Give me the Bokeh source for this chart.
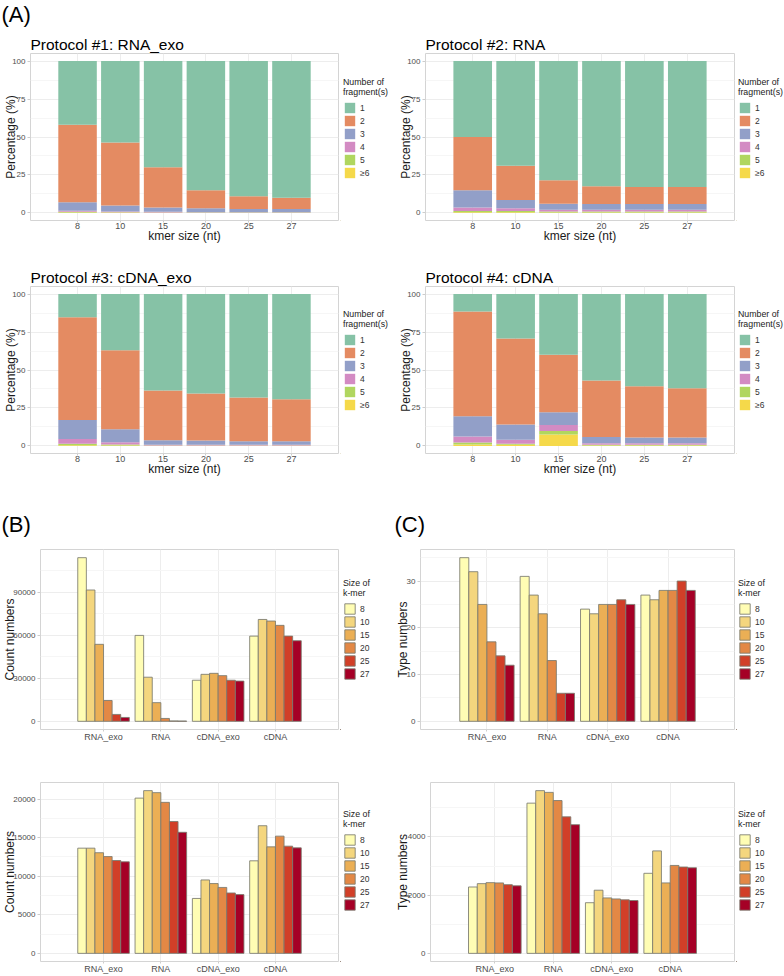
from bokeh.plotting import figure
from bokeh.layouts import column, row
from bokeh.models import (ColumnDataSource, FactorRange, Range1d, FixedTicker,
                          Legend, LegendItem, Label)
from bokeh.transform import dodge
from bokeh.embed import file_html
from bokeh.resources import INLINE

FONT = "Liberation Sans"

# ---------------------------------------------------------------- data
kmer_sizes = ["8", "10", "15", "20", "25", "27"]
fragment_levels = ["1", "2", "3", "4", "5", "≥6"]
fragment_colors = ["#86C2A6", "#E48B62", "#929FC8", "#D38BC3", "#B0D65F", "#F5D94A"]

# percentage of k-mers by number of fragments; each list runs over kmer_sizes
rna_exo_pct = {
    "1": [42.0, 53.7, 70.0, 85.0, 89.0, 90.0],
    "2": [51.0, 41.5, 26.5, 12.0, 8.5, 7.5],
    "3": [5.5, 3.8, 2.8, 2.5, 2.0, 2.0],
    "4": [0.8, 0.5, 0.4, 0.3, 0.3, 0.3],
    "5": [0.4, 0.3, 0.2, 0.1, 0.1, 0.1],
    "≥6": [0.3, 0.2, 0.1, 0.1, 0.1, 0.1],
}
rna_pct = {
    "1": [50.0, 69.0, 78.5, 82.5, 83.0, 83.0],
    "2": [35.0, 22.5, 15.5, 11.7, 11.2, 11.2],
    "3": [11.5, 5.5, 4.0, 3.8, 3.8, 3.8],
    "4": [2.3, 1.8, 1.1, 1.1, 1.1, 1.1],
    "5": [0.7, 0.8, 0.6, 0.6, 0.6, 0.6],
    "≥6": [0.5, 0.4, 0.3, 0.3, 0.3, 0.3],
}
cdna_exo_pct = {
    "1": [15.2, 37.0, 63.5, 65.5, 68.1, 69.2],
    "2": [67.8, 52.0, 32.7, 30.9, 28.9, 27.8],
    "3": [12.5, 8.6, 3.0, 2.8, 2.3, 2.3],
    "4": [3.1, 1.4, 0.5, 0.5, 0.4, 0.4],
    "5": [1.0, 0.7, 0.2, 0.2, 0.2, 0.2],
    "≥6": [0.4, 0.3, 0.1, 0.1, 0.1, 0.1],
}
cdna_pct = {
    "1": [11.4, 29.2, 40.0, 56.9, 60.7, 62.0],
    "2": [69.0, 56.7, 37.8, 37.2, 33.8, 32.5],
    "3": [13.4, 10.1, 8.4, 4.1, 3.8, 3.8],
    "4": [4.0, 2.5, 3.9, 1.1, 1.0, 1.0],
    "5": [1.2, 0.8, 2.4, 0.4, 0.4, 0.4],
    "≥6": [1.0, 0.7, 7.5, 0.3, 0.3, 0.3],
}
pct_ticks = [0, 25, 50, 75, 100]

protocols = ["RNA_exo", "RNA", "cDNA_exo", "cDNA"]
kmer_colors = ["#FFFDB4", "#F4D67E", "#EBAF55", "#E38845", "#D13F28", "#A50026"]

# per k-mer size, one value for each protocol
count_numbers_1 = {
    "8": [113900, 59800, 28600, 59300],
    "10": [91400, 30700, 32700, 70900],
    "15": [53600, 13000, 33400, 69800],
    "20": [14500, 2000, 31800, 66800],
    "25": [4800, 300, 28600, 59300],
    "27": [2700, 200, 28000, 56100],
}
type_numbers_1 = {
    "8": [35, 31, 24, 27],
    "10": [32, 27, 23, 26],
    "15": [25, 23, 25, 28],
    "20": [17, 13, 25, 28],
    "25": [14, 6, 26, 30],
    "27": [12, 6, 25, 28],
}
count_numbers_2 = {
    "8": [13640, 20130, 7120, 12000],
    "10": [13640, 21100, 9520, 16550],
    "15": [13050, 20840, 9050, 13810],
    "20": [12550, 19580, 8550, 15200],
    "25": [12040, 17100, 7830, 13900],
    "27": [11870, 15700, 7620, 13680],
}
type_numbers_2 = {
    "8": [2280, 5160, 1740, 2750],
    "10": [2395, 5590, 2170, 3520],
    "15": [2430, 5530, 1905, 2420],
    "20": [2420, 5250, 1870, 3020],
    "25": [2360, 4690, 1840, 2965],
    "27": [2320, 4420, 1815, 2940],
}
count_ticks_1 = [0, 30000, 60000, 90000]
type_ticks_1 = [0, 10, 20, 30]
count_ticks_2 = [0, 5000, 10000, 15000, 20000]
type_ticks_2 = [0, 2000, 4000]

BAR_LINE = "#7A7A6E"


# ---------------------------------------------------------------- helpers
def base_figure(width, height, x_range, y_range, borders, ylab_standoff):
    left, right, top, bottom = borders
    p = figure(width=width, height=height, x_range=x_range, y_range=y_range,
               output_backend="svg", toolbar_location=None,
               min_border_left=left, min_border_right=right,
               min_border_top=top, min_border_bottom=bottom)
    p.outline_line_color = "#D4D4D4"
    p.outline_line_width = 1
    p.xgrid.grid_line_color = "#EDEDED"
    p.ygrid.grid_line_color = "#EDEDED"
    p.ygrid.minor_grid_line_color = "#F6F6F6"
    for ax in p.axis:
        ax.axis_line_color = None
        ax.major_tick_line_color = "#CDCDCD"
        ax.major_tick_in = 0
        ax.minor_tick_line_color = None
        ax.major_label_text_font = FONT
        ax.major_label_text_color = "#4D4D4D"
        ax.axis_label_text_font = FONT
        ax.axis_label_text_font_size = "12px"
        ax.axis_label_text_font_style = "normal"
        ax.axis_label_text_color = "#1A1A1A"
    p.xaxis.major_tick_out = 2
    p.xaxis.major_label_standoff = 0
    p.xaxis.major_label_text_font_size = "9px"
    p.xaxis.axis_label_standoff = -3
    p.yaxis.major_tick_out = 3
    p.yaxis.major_label_standoff = 1
    p.yaxis.major_label_text_font_size = "8px"
    p.yaxis.axis_label_standoff = ylab_standoff
    return p


def set_yticks(p, ticks):
    step = ticks[1] - ticks[0]
    minor = [t + step / 2 for t in ticks]
    p.yaxis.ticker = FixedTicker(ticks=ticks, minor_ticks=minor)


def legend_box(width, height, title, labels, colors, outline, x, bottom):
    """A narrow canvas holding the key for the neighbouring panel.

    The key swatches come from renderers that sit outside this canvas' ranges,
    so only their legend entries are visible."""
    lp = figure(width=width, height=height, x_range=Range1d(0, 1), y_range=Range1d(0, 1),
                output_backend="svg", toolbar_location=None,
                x_axis_location=None, y_axis_location=None, min_border=0)
    lp.grid.visible = False
    lp.outline_line_color = None
    items = []
    for lab, col in zip(labels, colors):
        key = lp.vbar(x=[-5], bottom=[-5], top=[-4], width=0.1, fill_color=col,
                      line_color=outline if outline else None, line_alpha=0.85)
        items.append(LegendItem(label=lab, renderers=[key]))
    leg = Legend(items=items, title=title, location=(x, bottom),
                 orientation="vertical",
                 glyph_width=13, glyph_height=13, label_height=13, spacing=-2,
                 padding=0, margin=0, label_standoff=4,
                 label_text_font=FONT, label_text_font_size="8.5px",
                 label_text_color="#333333",
                 title_text_font=FONT, title_text_font_size="8.8px",
                 title_text_font_style="normal", title_text_color="#1A1A1A",
                 title_standoff=4,
                 border_line_color=None, background_fill_alpha=0)
    lp.add_layout(leg, "center")
    return lp


def fragment_panel(title, pct, width, borders, height, legend_bottom):
    ymax = 100
    p = base_figure(width, height, FactorRange(*kmer_sizes, range_padding=0.2),
                    Range1d(-0.05 * ymax, 1.05 * ymax), borders, -9)
    data = {"kmer": kmer_sizes}
    for i, lvl in enumerate(fragment_levels):
        data[f"f{i}"] = pct[lvl]
    src = ColumnDataSource(data)
    order = list(reversed(range(len(fragment_levels))))  # ≥6 at the bottom
    p.vbar_stack([f"f{i}" for i in order], x="kmer", width=0.9, source=src,
                 fill_color=[fragment_colors[i] for i in order], line_color=None)
    set_yticks(p, pct_ticks)
    p.xaxis.axis_label = "kmer size (nt)"
    p.yaxis.axis_label = "Percentage (%)"
    p.title.text = title
    p.title.text_font = FONT
    p.title.text_font_size = "15.5px"
    p.title.text_font_style = "normal"
    p.title.text_color = "#000000"
    p.title.align = "left"
    p.title.standoff = 2
    leg = legend_box(392 - width, height, "Number of\nfragment(s)", fragment_levels,
                     fragment_colors, None, 3 if width == 340 else 2, legend_bottom)
    return row(p, leg)


def kmer_panel(values, ticks, ylabel, width, borders, height, legend_bottom, standoff):
    ymax = max(max(v) for v in values.values())
    p = base_figure(width, height, FactorRange(*protocols, range_padding=0.3),
                    Range1d(-0.05 * ymax, 1.05 * ymax), borders, standoff)
    data = {"protocol": protocols}
    for k in kmer_sizes:
        data[f"k{k}"] = values[k]
    src = ColumnDataSource(data)
    n = len(kmer_sizes)
    bw = 0.9 / n
    for i, k in enumerate(kmer_sizes):
        p.vbar(x=dodge("protocol", (i - (n - 1) / 2) * bw, range=p.x_range),
               top=f"k{k}", width=bw, source=src, fill_color=kmer_colors[i],
               line_color=BAR_LINE, line_alpha=0.85, line_width=1)
    set_yticks(p, ticks)
    p.yaxis.axis_label = ylabel
    leg = legend_box(392 - width, height, "Size of\nk-mer", kmer_sizes, kmer_colors,
                     BAR_LINE, 3 if width == 340 else 2, legend_bottom)
    return row(p, leg)


def header(height, labels):
    h = figure(width=784, height=height, x_range=Range1d(0, 784), y_range=Range1d(0, height),
               output_backend="svg", toolbar_location=None,
               x_axis_location=None, y_axis_location=None, min_border=0)
    h.grid.visible = False
    h.outline_line_color = None
    for x, y, t in labels:
        h.add_layout(Label(x=x, y=y, text=t, text_font=FONT, text_font_size="22px",
                           text_baseline="middle", text_color="#000000"))
    return h


# ---------------------------------------------------------------- panels
head_a = header(30, [(1, 16, "(A)")])
a1 = fragment_panel("Protocol #1: RNA_exo", rna_exo_pct, 340, (30, 2, 23, 40), 230, 41)
a2 = fragment_panel("Protocol #2: RNA", rna_pct, 344, (33, 2, 23, 40), 230, 41)
a3 = fragment_panel("Protocol #3: cDNA_exo", cdna_exo_pct, 340, (30, 2, 26, 47), 240, 42)
a4 = fragment_panel("Protocol #4: cDNA", cdna_pct, 344, (33, 2, 26, 47), 240, 42)

head_bc = header(40, [(1, 16.5, "(B)"), (394, 16.5, "(C)")])
b1 = kmer_panel(count_numbers_1, count_ticks_1, "Count numbers", 340, (39, 2, 9, 12), 204, 49, -7)
c1 = kmer_panel(type_numbers_1, type_ticks_1, "Type numbers", 344, (28, 2, 9, 12), 204, 49, -6)
b2 = kmer_panel(count_numbers_2, count_ticks_2, "Count numbers", 340, (39, 2, 38, 10), 232, 50, -7)
c2 = kmer_panel(type_numbers_2, type_ticks_2, "Type numbers", 344, (38, 2, 38, 10), 232, 50, -5)

page = column(head_a, row(a1, a2), row(a3, a4), head_bc, row(b1, c1), row(b2, c2))

with open("out.html", "w") as f:
    f.write(file_html(page, INLINE))
